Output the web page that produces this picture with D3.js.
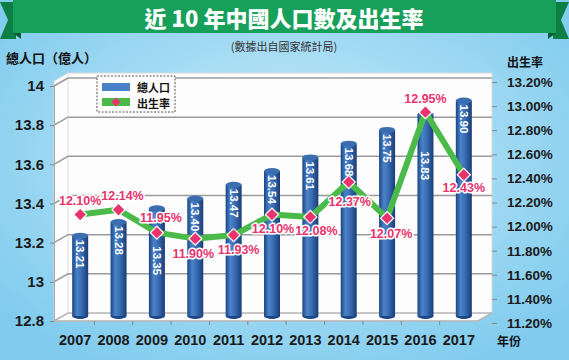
<!DOCTYPE html>
<html><head><meta charset="utf-8">
<script src="https://cdn.jsdelivr.net/npm/d3@7"></script>
<style>html,body{margin:0;padding:0;overflow:hidden;background:#8fd0f0}</style>
</head><body>
<svg id="c" width="569" height="360"></svg>
<script>
const years = ["2007","2008","2009","2010","2011","2012","2013","2014","2015","2016","2017"];
const population = [13.21,13.28,13.35,13.40,13.47,13.54,13.61,13.68,13.75,13.83,13.90];
const birthRate = [12.10,12.14,11.95,11.90,11.93,12.10,12.08,12.37,12.07,12.95,12.43];
const leftTicks = [12.8,13,13.2,13.4,13.6,13.8,14];
const rightTicks = [11.2,11.4,11.6,11.8,12.0,12.2,12.4,12.6,12.8,13.0,13.2];
// label placement (layout only)
const rateLabelDy = [-14,-14,-15,15,15,14,14,20,16,-13,13];
const rateLabelDx = [0,4,4,-2,5,1,6,1,4,0,0];
const barLabelDrop = [0,0,34,0,0,0,0,0,0,33,0];

(function(){
const svg = d3.select("#c");
const CJK = "'Noto Sans CJK TC','Noto Sans CJK SC',sans-serif";
const LAT = "'Liberation Sans',Arial,sans-serif";
const defs = svg.append("defs");

// background
const bg = defs.append("radialGradient").attr("id","bg").attr("cx","50%").attr("cy","45%").attr("r","65%");
bg.append("stop").attr("offset","0%").attr("stop-color","#c9ecfa");
bg.append("stop").attr("offset","100%").attr("stop-color","#80cbee");
svg.append("rect").attr("width",569).attr("height",360).attr("fill","url(#bg)");

// banner
svg.append("polygon").attr("points","0,2 16,2 16,39 0,39 8,20").attr("fill","#0d7f45");
svg.append("polygon").attr("points","569,2 553,2 553,39 569,39 561,20").attr("fill","#0d7f45");
svg.append("polygon").attr("points","13,33 21,33 21,39").attr("fill","#0a5a30");
svg.append("polygon").attr("points","556,33 548,33 548,39").attr("fill","#0a5a30");
svg.append("rect").attr("x",13).attr("y",0).attr("width",543).attr("height",33).attr("fill","#17a05a");
svg.append("text").attr("x",284).attr("y",17).attr("text-anchor","middle").attr("dominant-baseline","central")
  .attr("font-family",CJK).attr("font-weight","900").attr("font-size",22).attr("fill","#fff")
  .text("近 10 年中國人口數及出生率");
svg.append("text").attr("x",284).attr("y",46).attr("text-anchor","middle").attr("dominant-baseline","central")
  .attr("font-family",CJK).attr("font-size",11).attr("fill","#333").text("(數據出自國家統計局)");
svg.append("text").attr("x",6).attr("y",57).attr("dominant-baseline","central")
  .attr("font-family",CJK).attr("font-weight","bold").attr("font-size",13).attr("fill","#111").text("總人口（億人）");
svg.append("text").attr("x",525).attr("y",61).attr("text-anchor","middle").attr("dominant-baseline","central")
  .attr("font-family",CJK).attr("font-weight","bold").attr("font-size",12).attr("fill","#111").text("出生率");

// geometry
const fx0 = 54, fx1 = 478, DX = 14, DY = -8, plotTop = 73;
const yL = d3.scaleLinear().domain([12.8,14]).range([321,86]);
const yR = d3.scaleLinear().domain([11.2,13.2]).range([323,82]);
const x = d3.scaleBand().domain(years).range([56,478]);
const fy0 = yL(12.8);

// plot box
svg.append("polygon").attr("points",
  `${fx0},${fy0} ${fx0},${plotTop+8} ${fx0+DX},${plotTop} ${fx1+DX},${plotTop} ${fx1+DX},${fy0+DY} ${fx1},${fy0}`)
  .attr("fill","#fdfdfd").attr("stroke","#d8d8d8").attr("stroke-width",1);
svg.append("line").attr("x1",fx0+DX).attr("x2",fx0+DX).attr("y1",plotTop).attr("y2",fy0+DY).attr("stroke","#e0e0e0");

// gridlines with perspective
leftTicks.forEach(v => {
  const y = yL(v);
  const p = [[fx0,y],[fx0+DX,y+DY],[fx1+DX,y+DY]];
  svg.append("path").attr("d",d3.line()(p)).attr("fill","none")
    .attr("stroke", v===12.8 ? "#b5b5b5" : "#9a9a9a").attr("stroke-width",1.5);
});
svg.append("path").attr("d",d3.line()([[fx0,fy0],[fx1,fy0],[fx1+DX,fy0+DY]])).attr("fill","none")
  .attr("stroke","#b5b5b5").attr("stroke-width",1.5);

// axes
const axL = svg.append("g").attr("transform",`translate(${fx0},0)`)
  .call(d3.axisLeft(yL).tickValues(leftTicks).tickSize(4).tickPadding(6).tickFormat(d=>String(+d.toFixed(1))));
axL.select(".domain").attr("stroke","#aaa");
axL.selectAll(".tick line").attr("stroke","#888");
axL.selectAll("text").attr("font-family",LAT).attr("font-weight","bold").attr("font-size",15).attr("fill","#1a1a1a");

const axR = svg.append("g").attr("transform",`translate(${fx1+DX},0)`)
  .call(d3.axisRight(yR).tickValues(rightTicks).tickSize(5).tickPadding(10).tickFormat(d=>d3.format(".2f")(d)+"%"));
axR.select(".domain").remove();
axR.selectAll(".tick line").attr("stroke","#888");
axR.selectAll("text").attr("font-family",LAT).attr("font-weight","bold").attr("font-size",13.5).attr("fill","#1a1a1a");

// x axis
const axX = svg.append("g").attr("transform",`translate(0,${fy0})`)
  .call(d3.axisBottom(x).tickSize(0).tickPadding(14));
axX.select(".domain").remove();
axX.selectAll("text").attr("font-family",LAT).attr("font-weight","bold").attr("font-size",14.5).attr("fill","#1a1a1a");
years.forEach(y => {
  const xx = x(y) + x.bandwidth();
  if (y !== years[years.length-1])
    svg.append("line").attr("x1",xx).attr("x2",xx).attr("y1",fy0).attr("y2",fy0+4).attr("stroke","#888");
});
svg.append("text").attr("x",497).attr("y",340).attr("dominant-baseline","central")
  .attr("font-family",CJK).attr("font-weight","bold").attr("font-size",12).attr("fill","#111").text("年份");

// bars (cylinders)
const cg = defs.append("linearGradient").attr("id","cyl").attr("x1","0").attr("x2","1").attr("y1","0").attr("y2","0");
[["0%","#1b4584"],["30%","#4b82c8"],["55%","#3c70b6"],["100%","#173d78"]].forEach(s=>
  cg.append("stop").attr("offset",s[0]).attr("stop-color",s[1]));
const bdx = 5, bdy = -5, bw = 16, ry = 3;
const barG = svg.append("g");
years.forEach((yr,i) => {
  const cx = x(yr) + x.bandwidth()/2 + bdx;
  const ty = yL(population[i]) + bdy;
  const by = fy0 + bdy;
  barG.append("ellipse").attr("cx",cx).attr("cy",by).attr("rx",bw/2).attr("ry",ry).attr("fill","#1b4584");
  barG.append("rect").attr("x",cx-bw/2).attr("y",ty).attr("width",bw).attr("height",by-ty).attr("fill","url(#cyl)");
  barG.append("ellipse").attr("cx",cx).attr("cy",ty).attr("rx",bw/2).attr("ry",ry).attr("fill","#3b6db0");
  barG.append("text").attr("transform",`translate(${cx},${ty+4+barLabelDrop[i]}) rotate(90)`)
    .attr("dominant-baseline","central").attr("font-family",LAT).attr("font-weight","bold")
    .attr("font-size",11.5).attr("fill","#fff").text(population[i].toFixed(2));
});

// line
const pts = years.map((yr,i)=>[x(yr)+x.bandwidth()/2+bdx, yR(birthRate[i])]);
svg.append("path").attr("d",d3.line()(pts)).attr("fill","none").attr("stroke","#4cba4a")
  .attr("stroke-width",6).attr("stroke-linejoin","round");
const sym = d3.symbol().type(d3.symbolSquare).size(85);
pts.forEach((p,i)=>{
  svg.append("path").attr("d",sym()).attr("transform",`translate(${p[0]},${p[1]}) rotate(45)`)
    .attr("fill","#e8336d").attr("stroke","#fff").attr("stroke-width",1.2);
  svg.append("text").attr("x",p[0]+rateLabelDx[i]).attr("y",p[1]+rateLabelDy[i]).attr("text-anchor","middle")
    .attr("dominant-baseline","central").attr("font-family",LAT).attr("font-weight","bold")
    .attr("font-size",12.5).attr("fill","#e8336d").attr("stroke","#fff").attr("stroke-width",3)
    .attr("paint-order","stroke").attr("stroke-linejoin","round")
    .text(birthRate[i].toFixed(2)+"%");
});

// legend
const lg = svg.append("g");
lg.append("rect").attr("x",97).attr("y",76).attr("width",78).attr("height",36).attr("fill","#fff")
  .attr("stroke","#555").attr("stroke-dasharray","2,1.5").attr("stroke-width",1);
lg.append("rect").attr("x",102).attr("y",83).attr("width",28).attr("height",8).attr("fill","#4a80c8");
lg.append("rect").attr("x",102).attr("y",98).attr("width",28).attr("height",8).attr("fill","#4cba4a");
lg.append("path").attr("d",d3.symbol().type(d3.symbolSquare).size(40)()).attr("transform","translate(116,102) rotate(45)")
  .attr("fill","#e8336d");
lg.append("text").attr("x",137).attr("y",87).attr("dominant-baseline","central").attr("font-family",CJK)
  .attr("font-weight","bold").attr("font-size",11).attr("fill","#111").text("總人口");
lg.append("text").attr("x",137).attr("y",102.5).attr("dominant-baseline","central").attr("font-family",CJK)
  .attr("font-weight","bold").attr("font-size",11).attr("fill","#111").text("出生率");
})();
</script>
</body></html>
